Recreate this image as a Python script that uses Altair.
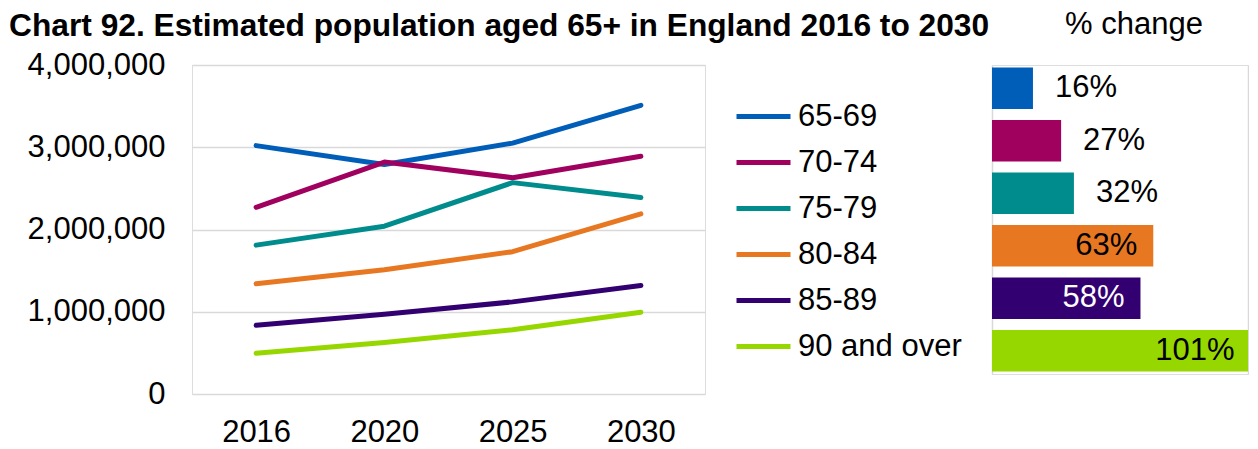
import altair as alt
import pandas as pd

years = ["2016", "2020", "2025", "2030"]
groups = ["65-69", "70-74", "75-79", "80-84", "85-89", "90 and over"]
colors = ["#005EB8", "#A0005E", "#008C8C", "#E87722", "#330072", "#97D700"]

pop_65_69 = [3020000, 2790000, 3050000, 3510000]
pop_70_74 = [2270000, 2820000, 2630000, 2890000]
pop_75_79 = [1810000, 2040000, 2570000, 2390000]
pop_80_84 = [1340000, 1510000, 1730000, 2190000]
pop_85_89 = [835000, 970000, 1120000, 1320000]
pop_90_plus = [495000, 625000, 780000, 995000]

pct_change = [16, 27, 32, 63, 58, 101]
pct_labels = ["16%", "27%", "32%", "63%", "58%", "101%"]

FONT = "Liberation Sans"

series = [pop_65_69, pop_70_74, pop_75_79, pop_80_84, pop_85_89, pop_90_plus]
rows = []
for g, vals in zip(groups, series):
    for y, v in zip(years, vals):
        rows.append({"year": y, "group": g, "population": v})
line_df = pd.DataFrame(rows)

bar_df = pd.DataFrame({"group": groups, "pct": pct_change, "label": pct_labels})

color_scale = alt.Scale(domain=groups, range=colors)

lines = alt.Chart(line_df).mark_line(strokeWidth=5, strokeCap="round", strokeJoin="round").encode(
    x=alt.X("year:O", sort=years, scale=alt.Scale(type="point", padding=0.5),
            axis=alt.Axis(title=None, labelAngle=0, labelFontSize=31, labelFont=FONT,
                          labelColor="black", labelPadding=23, domain=False, ticks=False, grid=False)),
    y=alt.Y("population:Q", scale=alt.Scale(domain=[0, 4000000], nice=False),
            axis=alt.Axis(title=None, values=[0, 1000000, 2000000, 3000000, 4000000], format=",d",
                          labelFontSize=31, labelFont=FONT, labelColor="black", labelPadding=27,
                          domain=False, ticks=False, gridColor="#d9d9d9", gridWidth=1.5)),
    color=alt.Color("group:N", scale=color_scale, sort=groups,
                    legend=alt.Legend(title=None, orient="none", legendX=542, legendY=22,
                                      symbolType="stroke", symbolSize=2916, symbolStrokeWidth=5,
                                      labelFontSize=31, labelFont=FONT, labelColor="black",
                                      labelOffset=5, rowPadding=1, padding=0, labelLimit=400)),
).properties(
    width=513, height=329,
    title=alt.TitleParams("Chart 92. Estimated population aged 65+ in England 2016 to 2030",
                          anchor="start", fontSize=31.7, fontWeight="bold", font=FONT,
                          color="black", dx=-18, offset=6),
)

bar_base = alt.Chart(bar_df).encode(
    y=alt.Y("group:N", sort=groups, scale=alt.Scale(paddingInner=0.21, paddingOuter=0.05), axis=None),
)

bars = bar_base.mark_bar(clip=True).encode(
    x=alt.X("pct:Q", scale=alt.Scale(domain=[0, 100], nice=False),
            axis=alt.Axis(title=None, values=[0, 100], labels=False, ticks=False, domain=False,
                          gridColor="#d9d9d9", gridWidth=1.5)),
    color=alt.Color("group:N", scale=color_scale, legend=None),
)

outside = bar_base.transform_filter("datum.pct < 50").mark_text(
    align="left", baseline="middle", dx=22, fontSize=31, font=FONT, color="black"
).encode(x="pct:Q", text="label:N")

inside = bar_base.transform_filter("datum.pct >= 50").mark_text(
    align="right", baseline="middle", dx=-16, fontSize=31, font=FONT, clip=True
).encode(
    x="pct:Q", text="label:N",
    color=alt.condition("datum.group == '85-89'", alt.value("white"), alt.value("black")),
)

bar_chart = alt.layer(bars, outside, inside).properties(
    width=256, height=309,
    title=alt.TitleParams("% change", anchor="middle", fontSize=31, fontWeight="normal",
                          font=FONT, color="black", dx=14, offset=24),
)

chart = alt.hconcat(lines, bar_chart, spacing=287, bounds="flush").properties(
    padding={"left": 0, "top": 0, "right": 0, "bottom": 0}
).configure_view(stroke=None).configure(background="white")

chart.save("out.html", embed_options={"renderer": "svg", "actions": False})
